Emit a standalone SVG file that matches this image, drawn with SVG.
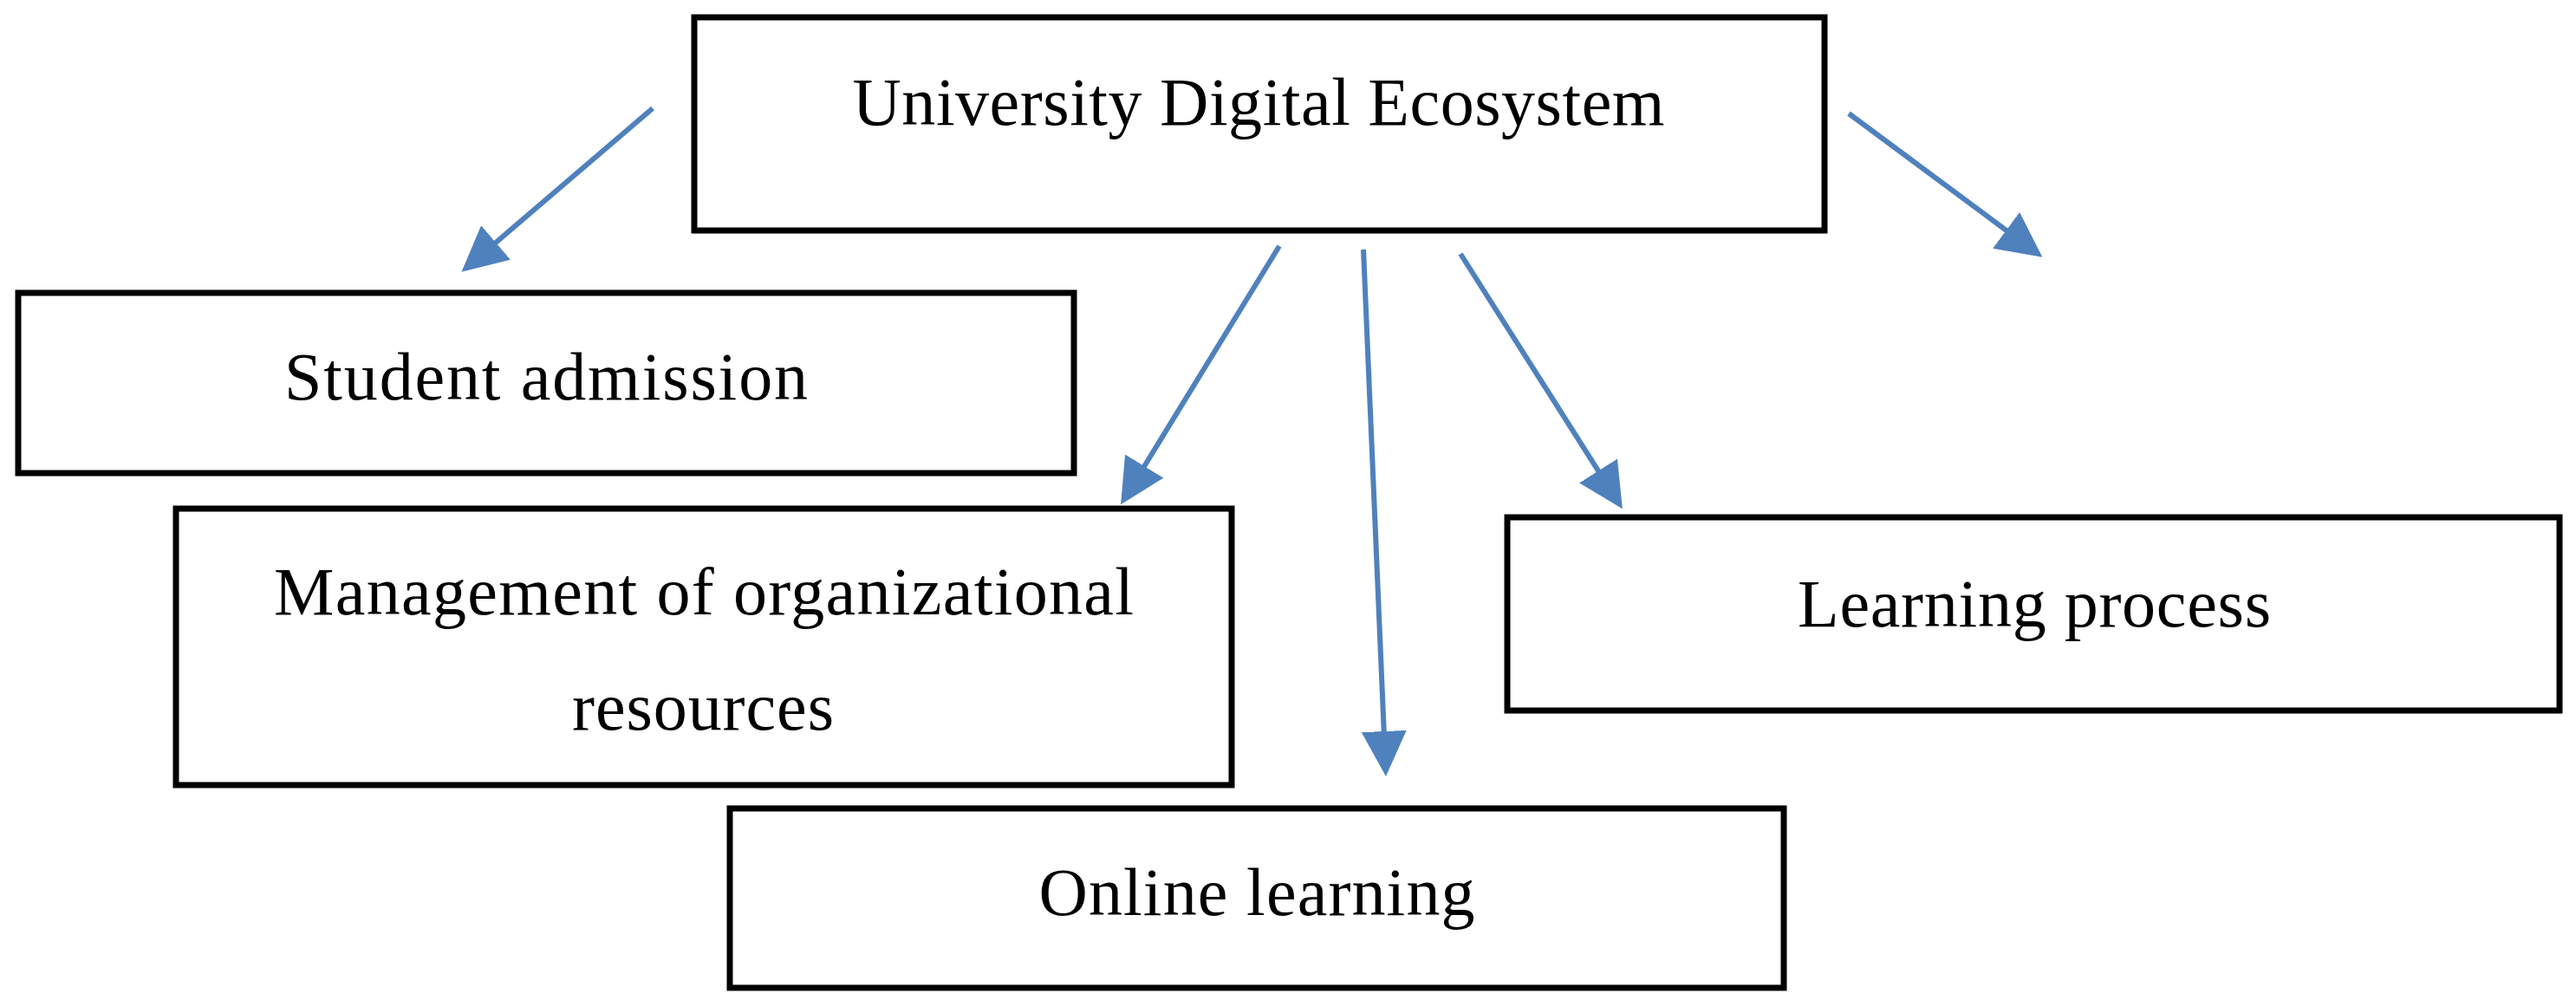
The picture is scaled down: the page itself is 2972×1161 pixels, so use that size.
<svg xmlns="http://www.w3.org/2000/svg" width="2972" height="1161" viewBox="0 0 2972 1161">
  <style>
    .box { fill: #ffffff; stroke: #000000; stroke-width: 7; }
    .lbl { font-family: "Liberation Serif", "DejaVu Serif", serif; font-size: 78px; fill: #000000; text-anchor: middle; }
    .conn { stroke: #4F81BD; stroke-width: 6; fill: none; marker-end: url(#arrow); }
  </style>
  <defs>
    <marker id="arrow" markerUnits="userSpaceOnUse" markerWidth="54" markerHeight="54" refX="2" refY="26" orient="auto">
      <path d="M0,0 L52,26 L0,52 Z" fill="#4F81BD"/>
    </marker>
  </defs>
  <rect x="0" y="0" width="2972" height="1161" fill="#ffffff"/>

  <g id="node-ecosystem">
    <rect class="box" x="801" y="20" width="1304" height="246"/>
    <text class="lbl" x="1452" y="144" textLength="937">University Digital Ecosystem</text>
  </g>
  <g id="node-admission">
    <rect class="box" x="21" y="338" width="1218" height="208"/>
    <text class="lbl" x="630" y="461" textLength="604">Student admission</text>
  </g>
  <g id="node-management">
    <rect class="box" x="203" y="587" width="1218" height="319"/>
    <text class="lbl" x="812" y="709" textLength="992">Management of organizational</text>
    <text class="lbl" x="811" y="842" textLength="302">resources</text>
  </g>
  <g id="node-online">
    <rect class="box" x="842" y="933" width="1216" height="207"/>
    <text class="lbl" x="1450" y="1056" textLength="503">Online learning</text>
  </g>
  <g id="node-learning">
    <rect class="box" x="1739" y="597" width="1214" height="223"/>
    <text class="lbl" x="2347" y="723" textLength="546">Learning process</text>
  </g>

  <g id="connectors">
    <line class="conn" x1="753" y1="125" x2="570.5" y2="281.2"/>
    <line class="conn" x1="1476" y1="284" x2="1319.2" y2="539.7"/>
    <line class="conn" x1="1573" y1="288" x2="1596.8" y2="846"/>
    <line class="conn" x1="1685" y1="293" x2="1845.1" y2="545.1"/>
    <line class="conn" x1="2133" y1="131" x2="2316.2" y2="267"/>
  </g>
</svg>
